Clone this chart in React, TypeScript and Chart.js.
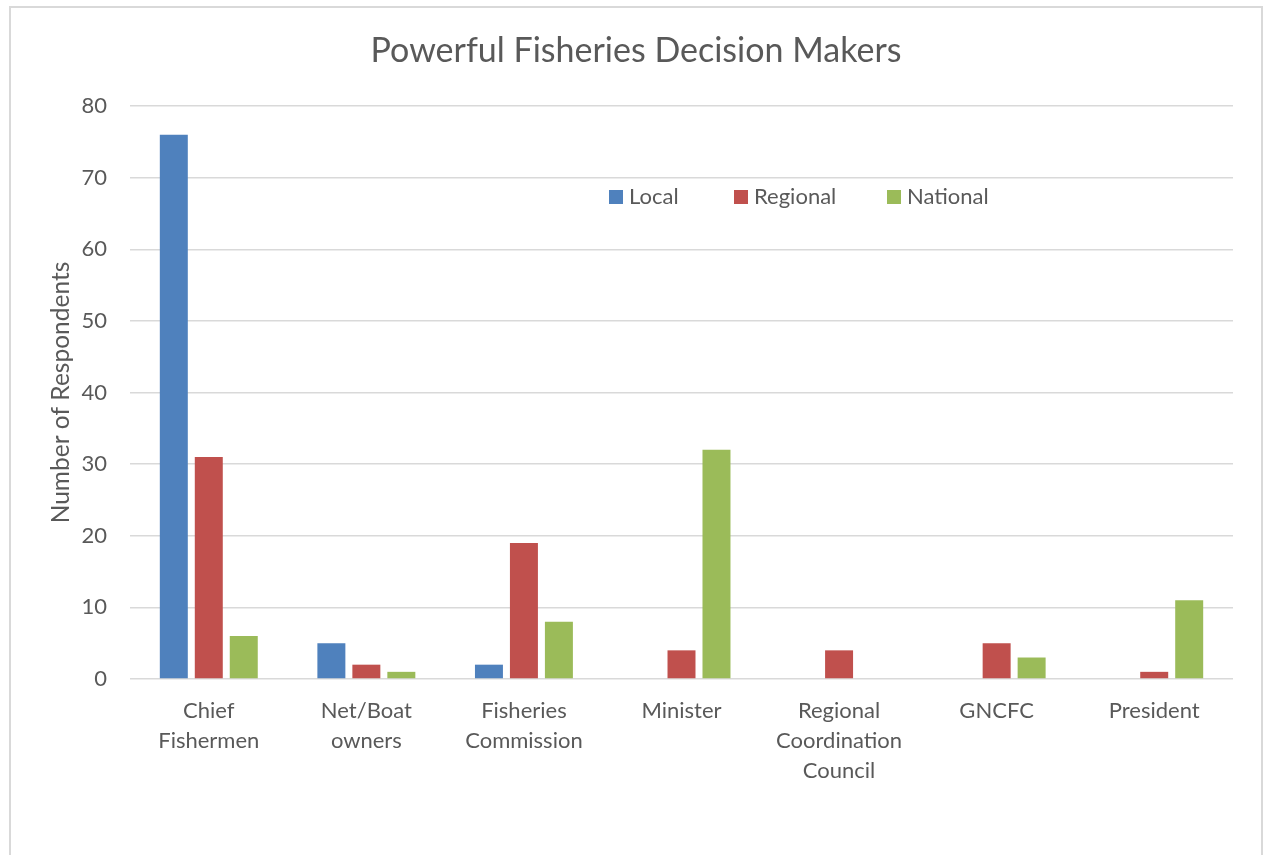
import React, { useEffect, useRef } from "react";
import { Chart, registerables } from "chart.js";

Chart.register(...registerables);

const categories: (string | string[])[] = [
  ["Chief", "Fishermen"],
  ["Net/Boat", "owners"],
  ["Fisheries", "Commission"],
  "Minister",
  ["Regional", "Coordination", "Council"],
  "GNCFC",
  "President",
];

const localValues = [76, 5, 2, 0, 0, 0, 0];
const regionalValues = [31, 2, 19, 4, 4, 5, 1];
const nationalValues = [6, 1, 8, 32, 0, 3, 11];

const seriesNames = ["Local", "Regional", "National"];
const seriesColors = ["#4F81BD", "#C0504D", "#9BBB59"];

const chartTitle = "Powerful Fisheries Decision Makers";
const yAxisTitle = "Number of Respondents";

const TEXT = "#595959";
const FONT = "Lato, 'Open Sans', sans-serif";

const legendPlugin = {
  id: "insideLegend",
  afterDraw(chart: any) {
    const ctx = chart.ctx;
    const xs = [609, 734, 887];
    const y = 190;
    ctx.save();
    ctx.font = `22px ${FONT}`;
    ctx.textBaseline = "middle";
    ctx.textAlign = "left";
    chart.data.datasets.forEach((ds: any, i: number) => {
      ctx.fillStyle = ds.backgroundColor;
      ctx.fillRect(xs[i], y, 14, 14);
      ctx.fillStyle = TEXT;
      ctx.fillText(ds.label, xs[i] + 20, y + 7);
    });
    ctx.restore();
  },
};

export default function App() {
  const ref = useRef<HTMLCanvasElement>(null);

  useEffect(() => {
    if (!ref.current) return;
    const data = [localValues, regionalValues, nationalValues];
    const chart = new Chart(ref.current, {
      type: "bar",
      data: {
        labels: categories as any,
        datasets: seriesNames.map((name, i) => ({
          label: name,
          data: data[i],
          backgroundColor: seriesColors[i],
          borderWidth: 0,
          categoryPercentage: 0.666,
          barPercentage: 0.8,
        })),
      },
      options: {
        responsive: false,
        animation: false,
        devicePixelRatio: 1,
        layout: { padding: { left: 39, right: 31, top: 0, bottom: 0 } },
        plugins: {
          legend: { display: false },
          tooltip: { enabled: false },
          title: {
            display: true,
            text: chartTitle,
            color: TEXT,
            font: { family: FONT, size: 34, weight: "normal", lineHeight: 1.2 },
            padding: { top: 31, bottom: 34.2 },
          },
        },
        scales: {
          x: {
            grid: { display: false },
            border: { display: false },
            ticks: {
              color: TEXT,
              font: { family: FONT, size: 22, lineHeight: 1.36 },
              padding: 9,
              maxRotation: 0,
              autoSkip: false,
            },
            afterFit: (scale: any) => {
              scale.height = 176;
            },
          },
          y: {
            min: 0,
            max: 80,
            grid: { color: "#d9d9d9", lineWidth: 1.5, drawTicks: false },
            border: { display: false },
            ticks: {
              stepSize: 10,
              color: TEXT,
              font: { family: FONT, size: 22 },
              padding: 23,
            },
            title: {
              display: true,
              text: yAxisTitle,
              color: TEXT,
              font: { family: FONT, size: 24.5, lineHeight: 1.2 },
              padding: { top: 7.3, bottom: 0 },
            },
            afterFit: (scale: any) => {
              scale.width = 91;
            },
          },
        },
      },
      plugins: [legendPlugin],
    });
    return () => chart.destroy();
  }, []);

  return (
    <div
      style={{
        position: "fixed",
        left: 0,
        top: 0,
        width: 1264,
        height: 855,
        background: "#ffffff",
        overflow: "hidden",
      }}
    >
      <div
        style={{
          position: "absolute",
          left: 9,
          top: 6,
          width: 1254,
          height: 900,
          boxSizing: "border-box",
          border: "2px solid #d9d9d9",
        }}
      />
      <canvas
        ref={ref}
        width={1264}
        height={855}
        style={{ position: "absolute", left: 0, top: 0, width: 1264, height: 855 }}
      />
    </div>
  );
}
